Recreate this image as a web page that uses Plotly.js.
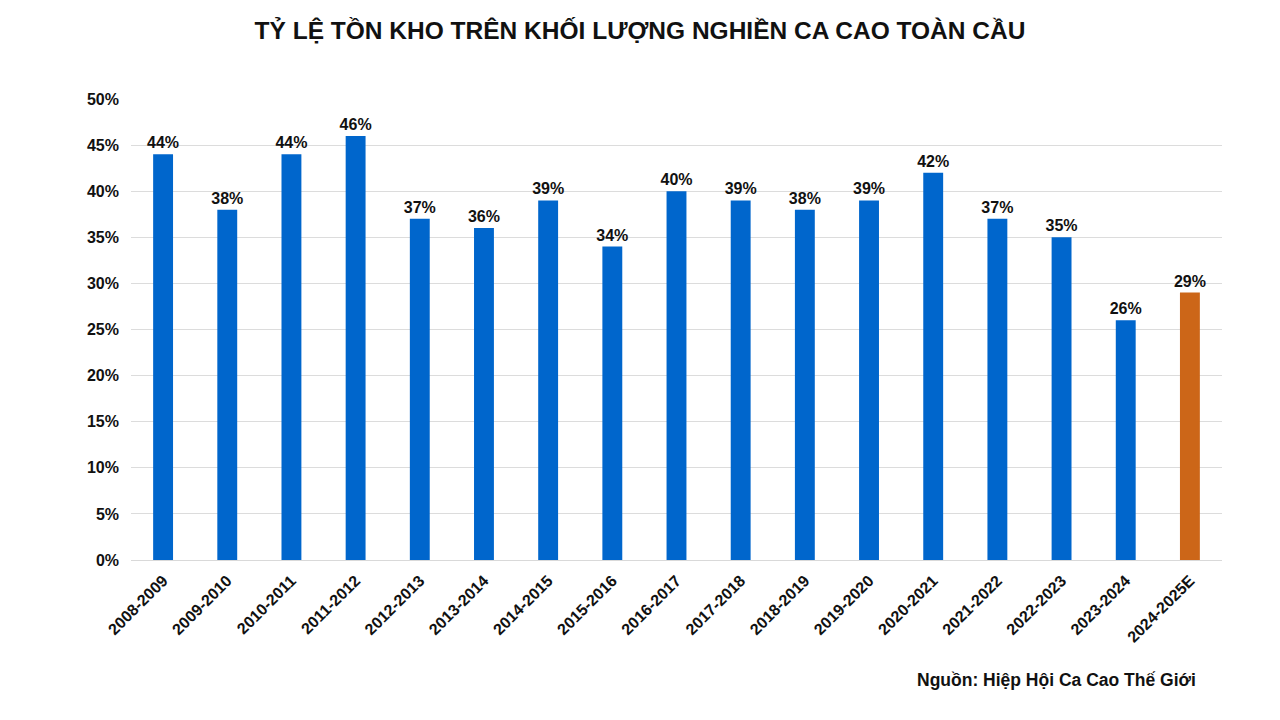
<!DOCTYPE html>
<html>
<head>
<meta charset="utf-8">
<script src="https://cdn.plot.ly/plotly-3.0.1.min.js"></script>
<style>
  html, body { margin: 0; padding: 0; background: #ffffff; }
  #chart { width: 1280px; height: 720px; }
</style>
</head>
<body>
<div id="chart"></div>
<script>
// Niên vụ và tỷ lệ tồn kho / khối lượng nghiền (%)
const seasons = [
  "2008-2009", "2009-2010", "2010-2011", "2011-2012", "2012-2013", "2013-2014",
  "2014-2015", "2015-2016", "2016-2017", "2017-2018", "2018-2019", "2019-2020",
  "2020-2021", "2021-2022", "2022-2023", "2023-2024", "2024-2025E"
];
const ratios = [44, 38, 44, 46, 37, 36, 39, 34, 40, 39, 38, 39, 42, 37, 35, 26, 29];
const yTicks = [0, 5, 10, 15, 20, 25, 30, 35, 40, 45, 50];

const blue = "#0066CC";
const orange = "#CC6618";
const barColors = seasons.map((s) => s.endsWith("E") ? orange : blue);
const fontFamily = "Liberation Sans, Arial, sans-serif";

const trace = {
  x: seasons,
  y: ratios,
  type: "bar",
  marker: { color: barColors },
  text: ratios.map((v) => "<b>" + v + "%</b>"),
  textposition: "outside",
  constraintext: "none",
  cliponaxis: false,
  textfont: { family: fontFamily, size: 16, color: "#111111" },
  hoverinfo: "x+y"
};

Plotly.newPlot("chart", [trace], {
  width: 1280,
  height: 720,
  paper_bgcolor: "#ffffff",
  plot_bgcolor: "#ffffff",
  font: { family: fontFamily, color: "#111111" },
  margin: { t: 99, r: 58, b: 160, l: 131 },
  bargap: 0.69,
  showlegend: false,
  title: {
    text: "<b>TỶ LỆ TỒN KHO TRÊN KHỐI LƯỢNG NGHIỀN CA CAO TOÀN CẦU</b>",
    font: { family: fontFamily, size: 24.5, color: "#111111" },
    x: 0.5,
    xanchor: "center",
    y: 0.958,
    yanchor: "middle"
  },
  xaxis: {
    type: "category",
    tickangle: -45,
    tickfont: { family: fontFamily, size: 16, color: "#111111" },
    tickvals: seasons,
    ticktext: seasons.map((s) => "<b>" + s + "</b>"),
    showgrid: false,
    showline: true,
    linecolor: "#d9d9d9",
    linewidth: 1,
    ticks: "",
    ticklabelstandoff: 4
  },
  yaxis: {
    range: [0, 50],
    tickvals: yTicks,
    ticktext: yTicks.map((v) => "<b>" + v + "%</b>"),
    tickfont: { family: fontFamily, size: 16, color: "#111111" },
    gridcolor: "#dcdcdc",
    gridwidth: 1,
    zeroline: false,
    showline: false,
    ticks: "",
    ticklabelstandoff: 11
  },
  annotations: [{
    text: "<b>Nguồn: Hiệp Hội Ca Cao Thế Giới</b>",
    xref: "paper",
    yref: "paper",
    x: (1198 - 131) / (1222 - 131),
    xanchor: "right",
    y: -(680 - 560) / (560 - 99),
    yanchor: "middle",
    showarrow: false,
    font: { family: fontFamily, size: 17.5, color: "#111111" }
  }]
}, {
  displayModeBar: false,
  responsive: false
});
</script>
</body>
</html>
